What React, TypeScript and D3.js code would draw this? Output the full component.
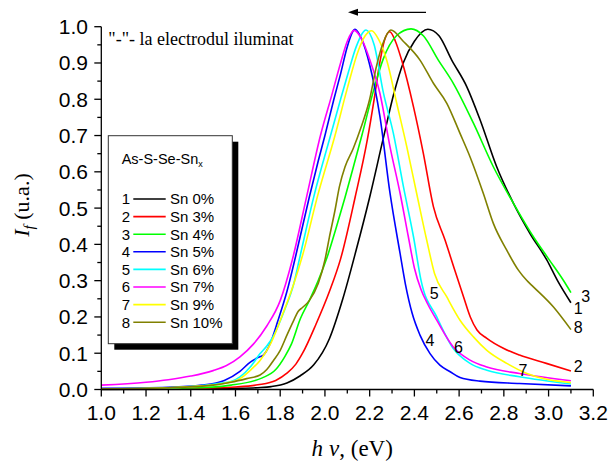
import React from "react";
import * as d3 from "d3";

type Pt = [number, number];

// Photocurrent spectra I_f(hν), normalised, for As-S-Se-Sn_x films
const sn0: Pt[] = [[1.0,0.0],[1.4,0.001],[1.6,0.003],[1.7,0.005],[1.76,0.008],[1.83,0.018],[1.89,0.038],[1.95,0.068],[2.02,0.14],[2.08,0.25],[2.14,0.385],[2.2,0.53],[2.26,0.69],[2.31,0.82],[2.35,0.9],[2.4,0.96],[2.46,0.993],[2.51,0.975],[2.567,0.908],[2.634,0.835],[2.694,0.743],[2.768,0.614],[2.843,0.513],[2.917,0.43],[2.992,0.357],[3.04,0.3],[3.1,0.239]];
const sn3: Pt[] = [[1.0,0.001],[1.4,0.003],[1.6,0.007],[1.7,0.013],[1.78,0.025],[1.83,0.045],[1.87,0.07],[1.9,0.1],[1.96,0.18],[2.02,0.27],[2.07,0.36],[2.135,0.53],[2.19,0.69],[2.22,0.8],[2.245,0.9],[2.265,0.96],[2.29,0.986],[2.315,0.96],[2.343,0.908],[2.396,0.779],[2.44,0.651],[2.485,0.504],[2.537,0.412],[2.58,0.33],[2.62,0.255],[2.65,0.2],[2.68,0.164],[2.724,0.141],[2.8,0.113],[2.87,0.095],[2.99,0.072],[3.1,0.051]];
const sn4: Pt[] = [[1.0,0.002],[1.4,0.004],[1.58,0.012],[1.72,0.032],[1.78,0.055],[1.82,0.09],[1.85,0.125],[1.89,0.195],[1.93,0.245],[1.97,0.3],[2.01,0.365],[2.05,0.445],[2.09,0.53],[2.13,0.62],[2.165,0.7],[2.22,0.83],[2.26,0.91],[2.32,0.975],[2.385,0.994],[2.44,0.975],[2.507,0.908],[2.574,0.844],[2.664,0.734],[2.753,0.614],[2.843,0.513],[2.932,0.421],[3.0,0.36],[3.066,0.301],[3.1,0.267]];
const sn5: Pt[] = [[1.0,0.003],[1.3,0.006],[1.45,0.012],[1.55,0.025],[1.62,0.05],[1.665,0.075],[1.7,0.088],[1.725,0.095],[1.754,0.125],[1.79,0.19],[1.83,0.27],[1.87,0.37],[1.93,0.53],[1.97,0.63],[2.0,0.7],[2.04,0.8],[2.07,0.87],[2.1,0.945],[2.135,0.993],[2.165,0.965],[2.2,0.895],[2.246,0.752],[2.291,0.541],[2.336,0.375],[2.36,0.29],[2.39,0.21],[2.425,0.15],[2.47,0.099],[2.514,0.067],[2.56,0.049],[2.604,0.033],[2.693,0.023],[2.87,0.0165],[3.1,0.01]];
const sn6: Pt[] = [[1.0,0.002],[1.3,0.005],[1.44,0.01],[1.53,0.017],[1.58,0.022],[1.62,0.035],[1.67,0.065],[1.71,0.099],[1.74,0.12],[1.77,0.148],[1.82,0.22],[1.86,0.29],[1.885,0.357],[1.95,0.531],[2.025,0.7],[2.07,0.8],[2.105,0.875],[2.14,0.945],[2.184,0.991],[2.22,0.95],[2.262,0.816],[2.306,0.706],[2.351,0.559],[2.396,0.421],[2.43,0.3],[2.5,0.2],[2.574,0.113],[2.649,0.072],[2.724,0.053],[2.87,0.035],[3.1,0.015]];
const sn7: Pt[] = [[1.0,0.012],[1.2,0.02],[1.3,0.027],[1.4,0.037],[1.5,0.052],[1.56,0.066],[1.62,0.09],[1.68,0.125],[1.74,0.175],[1.8,0.245],[1.854,0.357],[1.918,0.531],[1.98,0.7],[2.03,0.81],[2.07,0.9],[2.1,0.96],[2.13,0.99],[2.165,0.965],[2.2,0.91],[2.246,0.816],[2.291,0.669],[2.336,0.541],[2.373,0.421],[2.4,0.335],[2.43,0.275],[2.46,0.235],[2.5,0.191],[2.574,0.117],[2.649,0.081],[2.724,0.062],[2.87,0.044],[3.1,0.024]];
const sn9: Pt[] = [[1.0,0.002],[1.3,0.005],[1.45,0.01],[1.55,0.017],[1.62,0.03],[1.67,0.055],[1.71,0.08],[1.76,0.13],[1.8,0.19],[1.86,0.29],[1.9,0.37],[1.966,0.531],[2.045,0.7],[2.1,0.83],[2.15,0.935],[2.18,0.975],[2.209,0.989],[2.24,0.965],[2.276,0.908],[2.321,0.789],[2.366,0.669],[2.41,0.541],[2.455,0.412],[2.49,0.32],[2.545,0.255],[2.604,0.191],[2.664,0.145],[2.724,0.108],[2.813,0.072],[2.903,0.044],[3.1,0.019]];
const sn10: Pt[] = [[1.0,0.002],[1.3,0.005],[1.5,0.012],[1.58,0.02],[1.65,0.03],[1.71,0.04],[1.74,0.055],[1.77,0.08],[1.8,0.108],[1.83,0.15],[1.86,0.19],[1.88,0.215],[1.9,0.226],[1.93,0.245],[1.97,0.292],[2.0,0.357],[2.02,0.42],[2.045,0.494],[2.065,0.56],[2.09,0.614],[2.127,0.665],[2.16,0.72],[2.2,0.8],[2.23,0.89],[2.26,0.955],[2.295,0.991],[2.35,0.96],[2.425,0.908],[2.485,0.844],[2.545,0.789],[2.604,0.706],[2.649,0.641],[2.708,0.541],[2.753,0.458],[2.813,0.384],[2.865,0.329],[2.902,0.301],[2.932,0.283],[3.021,0.228],[3.1,0.165]];

const seriesData = [sn0, sn3, sn4, sn5, sn6, sn7, sn9, sn10];
const seriesNames = ["Sn 0%", "Sn 3%", "Sn 4%", "Sn 5%", "Sn 6%", "Sn 7%", "Sn 9%", "Sn 10%"];
const seriesColors = ["#000000", "#ff0000", "#00ff00", "#0000ff", "#00ffff", "#ff00ff", "#ffff00", "#808000"];

// curve numbers written next to the curves: [series index, x, y] (label centre)
const curveTags: [number, number, number][] = [
  [4, 2.489, 0.265],
  [3, 2.47, 0.136],
  [5, 2.597, 0.116],
  [6, 2.885, 0.053],
  [1, 3.133, 0.066],
  [2, 3.166, 0.258],
  [0, 3.133, 0.224],
  [7, 3.133, 0.173],
];

const xTicks = [1.0, 1.2, 1.4, 1.6, 1.8, 2.0, 2.2, 2.4, 2.6, 2.8, 3.0, 3.2];
const yTicks = [0.0, 0.1, 0.2, 0.3, 0.4, 0.5, 0.6, 0.7, 0.8, 0.9, 1.0];

const W = 616;
const H = 461;
const SANS = "'Liberation Sans', Arial, sans-serif";
const SERIF = "'Liberation Serif', 'Times New Roman', serif";

export default function App() {
  const x = d3.scaleLinear().domain([1.0, 3.2]).range([101.3, 593.3]);
  const y = d3.scaleLinear().domain([0, 1]).range([389.5, 26.7]);
  const line = d3
    .line<Pt>()
    .x((d) => x(d[0]))
    .y((d) => y(d[1]))
    .curve(d3.curveMonotoneX);

  const xMinor = d3.range(1.1, 3.2, 0.2);
  const yMinor = d3.range(0.05, 1.0, 0.1);
  const fmt = d3.format(".1f");

  const legX = 108.3;
  const legY = 135.7;
  const legW = 124;
  const legH = 208;

  return (
    <svg
      width={W}
      height={H}
      style={{ position: "absolute", left: 0, top: 0, background: "#fff" }}
    >
      <rect width={W} height={H} fill="#fff" />

      {/* curves */}
      <g fill="none" strokeWidth={1.6}>
        {seriesData.map((s, i) => (
          <path key={i} d={line(s) || ""} stroke={seriesColors[i]} />
        ))}
      </g>

      {/* axes */}
      <g stroke="#000" strokeWidth={1.3}>
        <line x1={x(1.0)} x2={x(3.2)} y1={y(0)} y2={y(0)} />
        <line x1={x(1.0)} x2={x(1.0)} y1={y(0)} y2={y(1)} />
        {xTicks.map((t) => (
          <line key={"xt" + t} x1={x(t)} x2={x(t)} y1={y(0)} y2={y(0) + 7} />
        ))}
        {xMinor.map((t) => (
          <line key={"xm" + t} x1={x(t)} x2={x(t)} y1={y(0)} y2={y(0) + 4} />
        ))}
        {yTicks.map((t) => (
          <line key={"yt" + t} x1={x(1.0) - 7} x2={x(1.0)} y1={y(t)} y2={y(t)} />
        ))}
        {yMinor.map((t) => (
          <line key={"ym" + t} x1={x(1.0) - 4} x2={x(1.0)} y1={y(t)} y2={y(t)} />
        ))}
      </g>
      <g fontFamily={SANS} fontSize={21} fill="#000">
        {xTicks.map((t) => (
          <text key={"xl" + t} x={x(t)} y={420} textAnchor="middle">
            {fmt(t)}
          </text>
        ))}
        {yTicks.map((t) => (
          <text key={"yl" + t} x={88} y={y(t) + 7.5} textAnchor="end">
            {fmt(t)}
          </text>
        ))}
      </g>

      {/* axis titles */}
      <text x={311.5} y={456} fontFamily={SERIF} fontSize={23} fill="#000">
        <tspan fontStyle="italic">h</tspan>
        <tspan fontStyle="italic" dx={6}>ν</tspan>
        <tspan>, (eV)</tspan>
      </text>
      <text
        transform="translate(29,205) rotate(-90)"
        textAnchor="middle"
        fontFamily={SERIF}
        fontSize={22}
        fill="#000"
      >
        <tspan fontStyle="italic">I</tspan>
        <tspan fontStyle="italic" fontSize={15} dy={5}>f</tspan>
        <tspan dy={-5}> (u.a.)</tspan>
      </text>

      {/* note and shift arrow */}
      <text x={108.3} y={45} fontFamily={SERIF} fontSize={18} fill="#000">
        "-"- la electrodul iluminat
      </text>
      <line x1={426} x2={354} y1={12.3} y2={12.3} stroke="#000" strokeWidth={1.3} />
      <path d="M348,12.3 L358,8.8 L358,15.8 Z" fill="#000" />

      {/* curve numbers */}
      <g fontFamily={SANS} fontSize={16} fill="#000" textAnchor="middle">
        {curveTags.map(([i, tx, ty]) => (
          <text key={"tag" + i} x={x(tx)} y={y(ty) + 6}>
            {i + 1}
          </text>
        ))}
      </g>

      {/* legend */}
      <rect x={legX + 6} y={legY + 6} width={legW} height={legH} fill="#000" />
      <rect x={legX} y={legY} width={legW} height={legH} fill="#fff" stroke="#333" strokeWidth={1} />
      <text x={121.7} y={164} fontFamily={SANS} fontSize={14.5} fill="#000">
        As-S-Se-Sn
        <tspan fontSize={9} dy={3}>x</tspan>
      </text>
      <g fontFamily={SANS} fontSize={15} fill="#000">
        {seriesNames.map((name, i) => {
          const cy = 199 + i * 17.6;
          return (
            <g key={name}>
              <text x={121.7} y={cy + 5.3}>{i + 1}</text>
              <line x1={133.3} x2={165.7} y1={cy} y2={cy} stroke={seriesColors[i]} strokeWidth={1.6} />
              <text x={170} y={cy + 5.3}>{name}</text>
            </g>
          );
        })}
      </g>
    </svg>
  );
}
